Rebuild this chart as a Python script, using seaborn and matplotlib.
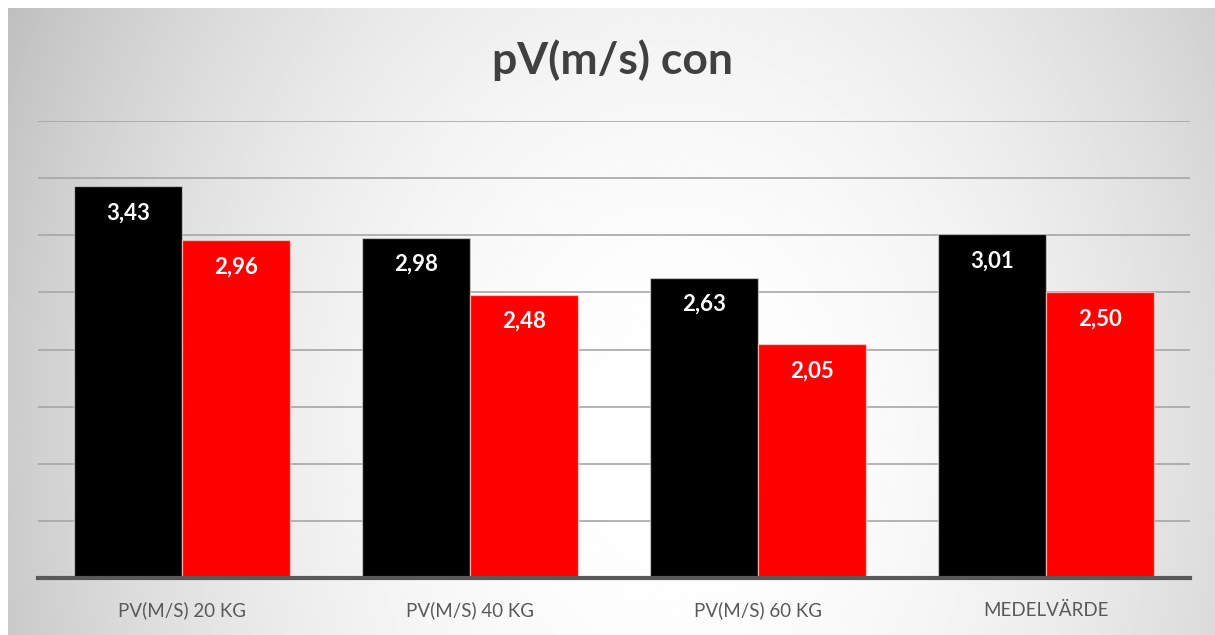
import numpy as np
import pandas as pd
import seaborn as sns
import matplotlib.pyplot as plt

# Chart values
categories = ['PV(M/S) 20 KG', 'PV(M/S) 40 KG', 'PV(M/S) 60 KG', 'MEDELVÄRDE']
series_names = ['Serie 1', 'Serie 2']
black_values = [3.43, 2.98, 2.63, 3.01]
red_values = [2.96, 2.48, 2.05, 2.50]

df = pd.DataFrame({
    'Kategori': categories * 2,
    'Serie': [series_names[0]] * 4 + [series_names[1]] * 4,
    'Värde': black_values + red_values,
})

sns.set_theme(style='white')
plt.rcParams['font.family'] = ['Lato', 'DejaVu Sans']

W, H = 1215, 635
fig = plt.figure(figsize=(W / 100, H / 100), dpi=100)
fig.patch.set_facecolor('white')

# Radial gradient background of the chart area (white centre, grey edges)
bg = fig.add_axes([8 / W, 0, (W - 8) / W, (H - 8) / H])
yy, xx = np.mgrid[0:1:300j, 0:1:600j]
r2 = ((xx - 0.55) / 0.615) ** 2 + ((yy - 0.3) / 1.55) ** 2
grad = 1 - 0.25 * np.clip(r2, 0, 1.1)
bg.imshow(grad, cmap='gray', vmin=0, vmax=1, aspect='auto', origin='lower',
          extent=[0, 1, 0, 1])
bg.set_axis_off()

ax = fig.add_axes([38 / W, 57 / H, (1190 - 38) / W, (578 - 121) / H])
ax.patch.set_alpha(0)
sns.barplot(data=df, x='Kategori', y='Värde', hue='Serie',
            palette=['#000000', '#ff0000'], saturation=1, width=0.75, ax=ax,
            edgecolor=(1, 1, 1, 0.5), linewidth=1, legend=False, zorder=3)

ax.set_ylim(0, 4.0)
ax.set_yticks(np.arange(0, 4.01, 0.5))
ax.yaxis.grid(True, color='#a6a6a6', linewidth=1.2, zorder=0)
ax.set_axisbelow(True)
ax.tick_params(axis='y', left=False, labelleft=False)
ax.tick_params(axis='x', bottom=False, labelsize=13.5, colors='#595959', pad=11)
for s in ['top', 'right', 'left']:
    ax.spines[s].set_visible(False)
ax.spines['bottom'].set_color('#595959')
ax.spines['bottom'].set_linewidth(3)
ax.spines['bottom'].set_zorder(5)
ax.set_xlabel('')
ax.set_ylabel('')

for cont in ax.containers:
    labels = [f'{b.get_height():.2f}'.replace('.', ',') for b in cont]
    ax.bar_label(cont, labels=labels, label_type='edge', padding=-27,
                 color='white', fontsize=16, fontweight='bold')

fig.text(613 / W, 1 - 60 / H, 'pV(m/s) con', ha='center', va='center',
         fontsize=32, fontweight='bold', color='#404040')

fig.savefig('out.png', dpi=100)
